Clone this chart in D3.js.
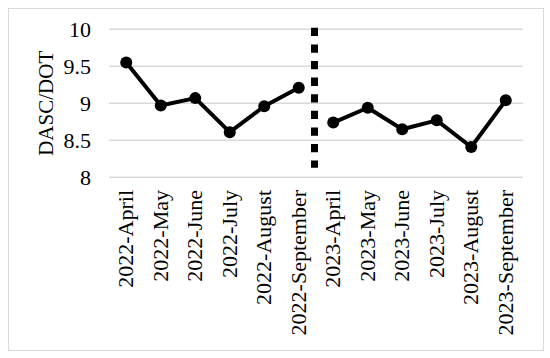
<!DOCTYPE html>
<html><head><meta charset="utf-8">
<script src="https://cdn.jsdelivr.net/npm/d3@7"></script>
<style>body{margin:0;background:#fff}svg{display:block}</style>
</head><body>
<svg id="chart" width="550" height="358"></svg>
<script>
const categories = ["2022-April","2022-May","2022-June","2022-July","2022-August","2022-September",
                    "2023-April","2023-May","2023-June","2023-July","2023-August","2023-September"];
const values2022 = [9.55, 8.97, 9.07, 8.61, 8.96, 9.21];
const values2023 = [8.74, 8.94, 8.65, 8.77, 8.41, 9.04];
const yTicks = [8, 8.5, 9, 9.5, 10];
const yTickLabels = ["8", "8.5", "9", "9.5", "10"];
const axisTitle = "DASC/DOT";
const dividerRange = [10, 8.13];

const svg = d3.select("#chart");
const font = "'Liberation Serif','Times New Roman',serif";
const L = 109, R = 523, T = 29.3, B = 177.3;

svg.append("rect").attr("x", 8.5).attr("y", 8.5).attr("width", 535).attr("height", 342)
  .attr("fill", "#fff").attr("stroke", "#d9d9d9").attr("stroke-width", 1);

const x = d3.scaleBand().domain(categories).range([L, R]);
const y = d3.scaleLinear().domain([8, 10]).range([B, T]);

// gridlines
svg.append("g").selectAll("line").data(yTicks).join("line")
  .attr("x1", L).attr("x2", R)
  .attr("y1", d => y(d)).attr("y2", d => y(d))
  .attr("stroke", "#d9d9d9").attr("stroke-width", 1.5);

// y axis labels
const yAxis = d3.axisLeft(y).tickValues(yTicks).tickFormat((d, i) => yTickLabels[i]).tickSize(0).tickPadding(0);
const gy = svg.append("g").attr("transform", `translate(91,0)`).call(yAxis);
gy.select(".domain").remove();
gy.selectAll("text").attr("font-family", font).attr("font-size", 22).attr("fill", "#000")
  .attr("dy", "0.33em");

// x axis labels
const xAxis = d3.axisBottom(x).tickSize(0).tickPadding(0);
const gx = svg.append("g").attr("transform", `translate(0,190)`).call(xAxis);
gx.select(".domain").remove();
gx.selectAll("text").attr("font-family", font).attr("font-size", 22).attr("fill", "#000")
  .attr("text-anchor", "end").attr("transform", "rotate(-90)")
  .attr("x", 0).attr("y", 0).attr("dy", "0.32em");

// axis title
svg.append("text").attr("transform", `translate(53,${(T + B) / 2}) rotate(-90)`)
  .attr("text-anchor", "middle").attr("font-family", font).attr("font-size", 21)
  .attr("fill", "#000").text(axisTitle);

// divider
const divX = (x(categories[5]) + x(categories[6]) + x.bandwidth()) / 2 - 1.5;
svg.append("line").attr("x1", divX).attr("x2", divX)
  .attr("y1", y(dividerRange[0]) - 1.5).attr("y2", y(dividerRange[1]))
  .attr("stroke", "#000").attr("stroke-width", 7).attr("stroke-dasharray", "8.3,8.3");

const line = d3.line().x(d => x(d.c) + x.bandwidth() / 2).y(d => y(d.v));
[[categories.slice(0, 6), values2022], [categories.slice(6), values2023]].forEach(([cats, vals]) => {
  const data = cats.map((c, i) => ({ c, v: vals[i] }));
  svg.append("path").datum(data).attr("d", line).attr("fill", "none")
    .attr("stroke", "#000").attr("stroke-width", 4).attr("stroke-linejoin", "round");
  svg.append("g").selectAll("circle").data(data).join("circle")
    .attr("cx", d => x(d.c) + x.bandwidth() / 2).attr("cy", d => y(d.v)).attr("r", 6).attr("fill", "#000");
});
</script>
</body></html>
